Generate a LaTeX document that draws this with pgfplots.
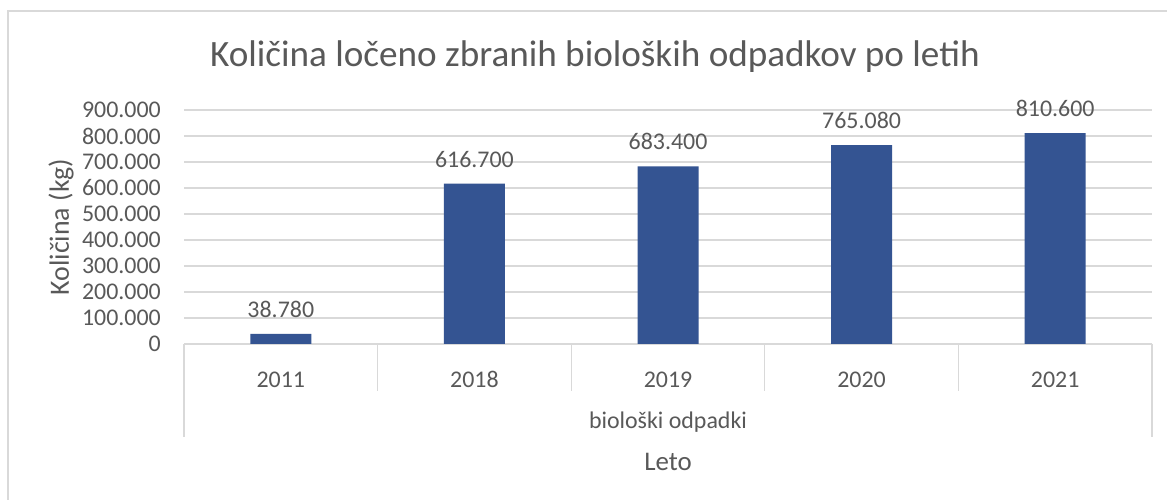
\documentclass[border=0pt]{standalone}
\usepackage{pgfplots}
\pgfplotsset{compat=1.18}
\usepackage{fontspec}
\setmainfont{Carlito}
\definecolor{barblue}{HTML}{345492}
\definecolor{txt}{HTML}{595959}
\definecolor{gridc}{HTML}{D9D9D9}
\begin{document}
\begin{tikzpicture}[x=1bp,y=1bp]
\useasboundingbox (0,0) rectangle (1167,500);
\fill[white] (0,0) rectangle (1167,500);
\draw[gridc, line width=1.3bp] (8,-5) -- (8,489) -- (1172,489);
\node[txt, font=\fontsize{37.3}{44}\selectfont] at (595,443) {Količina ločeno zbranih bioloških odpadkov po letih};
\node[txt, rotate=90, font=\fontsize{28}{33}\selectfont] at (61,273) {Količina (kg)};
\begin{axis}[
  at={(184bp,156bp)}, anchor=south west,
  scale only axis, width=968bp, height=234bp,
  xmin=-0.5, xmax=4.5, ymin=0, ymax=900000,
  ytick={0,100000,200000,300000,400000,500000,600000,700000,800000,900000},
  scaled y ticks=false,
  /pgf/number format/fixed,
  /pgf/number format/precision=0,
  /pgf/number format/1000 sep={.},
  /pgf/number format/assume math mode=true,
  axis line style={draw=none},
  ymajorgrids, grid style={gridc, line width=1.3bp},
  ytick style={draw=none}, xtick style={draw=none},
  xtick pos=bottom, ytick pos=left,
  xtick={0,1,2,3,4},
  xticklabels={2011,2018,2019,2020,2021},
  xticklabel style={anchor=base, inner sep=0pt, yshift=-39bp, text=txt, font=\fontsize{24}{28}\selectfont},
  yticklabel style={anchor=east, inner sep=0pt, xshift=-23bp, text=txt, font=\fontsize{24}{28}\selectfont},
  ybar, bar width=61bp,
  point meta=y,
  nodes near coords,
  every node near coord/.append style={anchor=base, inner sep=0pt, yshift=16.5bp, text=txt, font=\fontsize{24}{28}\selectfont},
  clip=false,
]
\addplot[fill=barblue, draw=none] coordinates {(0,38780) (1,616700) (2,683400) (3,765080) (4,810600)};
\draw[gridc, line width=1.3bp] (axis cs:-0.5,0) -- ([yshift=-93bp]axis cs:-0.5,0);
\draw[gridc, line width=1.3bp] (axis cs:4.5,0) -- ([yshift=-93bp]axis cs:4.5,0);
\draw[gridc, line width=1.3bp] (axis cs:0.5,0) -- ([yshift=-47bp]axis cs:0.5,0);
\draw[gridc, line width=1.3bp] (axis cs:1.5,0) -- ([yshift=-47bp]axis cs:1.5,0);
\draw[gridc, line width=1.3bp] (axis cs:2.5,0) -- ([yshift=-47bp]axis cs:2.5,0);
\draw[gridc, line width=1.3bp] (axis cs:3.5,0) -- ([yshift=-47bp]axis cs:3.5,0);
\node[txt, font=\fontsize{24}{28}\selectfont] at (rel axis cs:0.5,0) [yshift=-78bp] {biološki odpadki};
\node[txt, font=\fontsize{27}{32}\selectfont] at (rel axis cs:0.5,0) [yshift=-118bp] {Leto};
\end{axis}
\end{tikzpicture}
\end{document}
